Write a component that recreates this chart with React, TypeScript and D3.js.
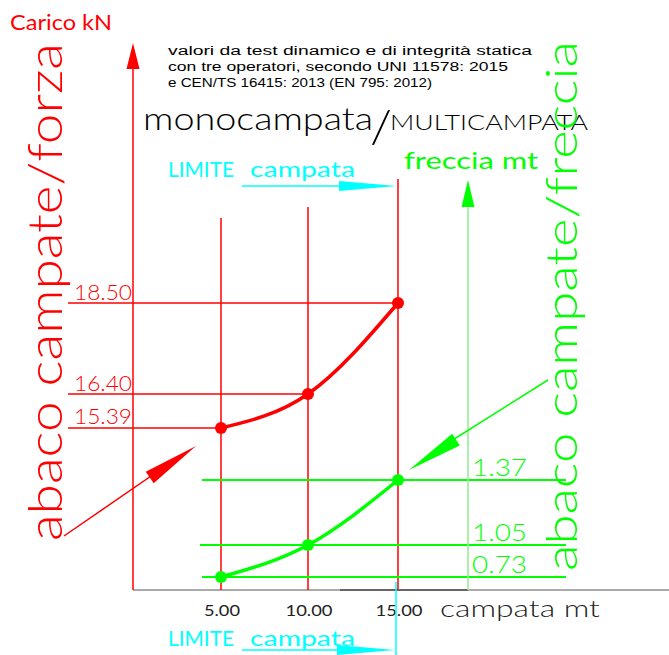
import React from "react";
import * as d3 from "d3";

const spans = [5, 10, 15];
const spanLabels = ["5.00", "10.00", "15.00"];
const loads = [15.39, 16.4, 18.5];
const loadLabels = ["15.39", "16.40", "18.50"];
const deflections = [0.73, 1.05, 1.37];
const deflLabels = ["0.73", "1.05", "1.37"];
const headerLines = [
  "valori da test dinamico e di  integrità statica",
  "con tre operatori, secondo UNI 11578: 2015",
  "e CEN/TS 16415: 2013 (EN 795: 2012)",
];

const RED = "#ff0000";
const GREEN = "#00ff00";
const CYAN = "#00ffff";
const FONT = "Lato, 'Open Sans', sans-serif";

function head(x1: number, y1: number, x2: number, y2: number, len: number, hw: number) {
  const dx = x2 - x1, dy = y2 - y1;
  const L = Math.hypot(dx, dy);
  const ux = dx / L, uy = dy / L;
  const bx = x2 - ux * len, by = y2 - uy * len;
  const px = -uy * hw, py = ux * hw;
  return `${x2},${y2} ${bx + px},${by + py} ${bx - px},${by - py}`;
}

export default function App() {
  const x = d3.scaleLinear().domain(spans).range([221, 308, 398]);
  const yLoad = d3.scaleLinear().domain(loads).range([428, 394, 303]);
  const yDefl = d3.scaleLinear().domain(deflections).range([577, 545, 480]);
  const axisX = 133;
  const baseY = 590;
  const greenAxisX = 468;
  const gridTop = [218, 207, 179];

  const line = d3.line<[number, number]>().curve(d3.curveMonotoneX);
  const redPts = spans.map((s, i) => [x(s), yLoad(loads[i])] as [number, number]);
  const greenPts = spans.map((s, i) => [x(s), yDefl(deflections[i])] as [number, number]);
  const xMax = x(spans[spans.length - 1]);

  const T = (props: any) => <text fontFamily={FONT} lengthAdjust="spacingAndGlyphs" {...props} />;

  return (
    <svg width={669} height={655} style={{ position: "absolute", left: 0, top: 0, background: "#fff" }}>
      {/* baseline */}
      <line x1={axisX} x2={669} y1={baseY} y2={baseY} stroke="#aaa" strokeWidth={2} />
      <line x1={340} x2={greenAxisX} y1={baseY} y2={baseY} stroke="#666" strokeWidth={2} />

      {/* red axis */}
      <line x1={axisX} x2={axisX} y1={60} y2={baseY} stroke={RED} strokeWidth={1.5} />
      <polygon points={head(axisX, 100, axisX, 43, 26, 6.5)} fill={RED} />
      <T x={10} y={30} fontSize={22} fill={RED} textLength={102}>Carico kN</T>

      {/* red vertical grid */}
      {spans.map((s, i) => (
        <line key={"v" + i} x1={x(s)} x2={x(s)} y1={gridTop[i]} y2={baseY} stroke={RED} strokeWidth={1.5} />
      ))}
      {/* red horizontal grid */}
      {loads.map((v, i) => (
        <line key={"h" + i} x1={68} x2={x(spans[i])} y1={yLoad(v)} y2={yLoad(v)} stroke={RED} strokeWidth={1.5} />
      ))}
      {loadLabels.map((t, i) => (
        <T key={"lt" + i} x={74} y={yLoad(loads[i]) - (i === 0 ? 4 : 3)} fontSize={21} fontWeight={300} fill={RED} textLength={58}>{t}</T>
      ))}

      {/* green grid */}
      {deflections.map((v, i) => (
        <line key={"g" + i} x1={i === 1 ? 200 : 202} x2={566} y1={yDefl(v)} y2={yDefl(v)} stroke={GREEN} strokeWidth={2} />
      ))}
      {deflLabels.map((t, i) => (
        <T key={"gt" + i} x={472} y={yDefl(deflections[i]) - 4} fontSize={23} fontWeight={300} fill={GREEN} textLength={55}>{t}</T>
      ))}

      {/* green axis */}
      <line x1={greenAxisX} x2={greenAxisX} y1={200} y2={baseY} stroke="#90ee90" strokeWidth={1.5} />
      <polygon points={head(greenAxisX, 240, greenAxisX, 180, 27, 6.5)} fill={GREEN} />
      <T x={404} y={169} fontSize={24} fill={GREEN} textLength={134}>freccia mt</T>

      {/* curves */}
      <path d={line(redPts) || ""} fill="none" stroke={RED} strokeWidth={3.5} />
      {redPts.map((p, i) => (
        <circle key={"rc" + i} cx={p[0]} cy={p[1]} r={6} fill={RED} />
      ))}
      <path d={line(greenPts) || ""} fill="none" stroke={GREEN} strokeWidth={3.5} />
      {greenPts.map((p, i) => (
        <circle key={"gc" + i} cx={p[0]} cy={p[1]} r={6} fill={GREEN} />
      ))}

      {/* pointer arrows */}
      <line x1={64} y1={536} x2={170} y2={463} stroke={RED} strokeWidth={1.5} />
      <polygon points={head(64, 536, 196, 446, 56, 7)} fill={RED} />
      <line x1={548} y1={380} x2={440} y2={448} stroke={GREEN} strokeWidth={1.5} />
      <polygon points={head(548, 380, 409, 470, 56, 7)} fill={GREEN} />

      {/* x labels */}
      {spanLabels.map((t, i) => (
        <T key={"xl" + i} x={x(spans[i]) + 1} y={616} textAnchor="middle" fontSize={16} fill="#222" textLength={i === 0 ? 36 : 47}>{t}</T>
      ))}
      <T x={440} y={617} fontSize={23} fontWeight={300} fill="#222" textLength={160}>campata mt</T>

      {/* LIMITE campata top */}
      <T x={168} y={177} fontSize={21} fill={CYAN} textLength={66}>LIMITE</T>
      <T x={250} y={177} fontSize={22} fill={CYAN} textLength={105}>campata</T>
      <line x1={242} x2={345} y1={186} y2={186} stroke={CYAN} strokeWidth={1.5} />
      <polygon points={head(242, 186, xMax - 1, 186, 58, 5)} fill={CYAN} />

      {/* LIMITE campata bottom */}
      <line x1={xMax - 2} x2={xMax - 2} y1={582} y2={655} stroke={CYAN} strokeWidth={1.5} />
      <T x={168} y={646} fontSize={21} fill={CYAN} textLength={66}>LIMITE</T>
      <T x={250} y={646} fontSize={22} fill={CYAN} textLength={105}>campata</T>
      <line x1={242} x2={345} y1={650} y2={650} stroke={CYAN} strokeWidth={1.5} />
      <polygon points={head(242, 650, xMax - 3, 650, 58, 5)} fill={CYAN} />

      {/* header */}
      {headerLines.map((t, i) => (
        <text key={"hd" + i} x={168} y={55 + i * 16} fontFamily="'Liberation Sans', sans-serif" fontSize={12} fill="#000" textLength={[364, 340, 264][i]} lengthAdjust="spacingAndGlyphs">{t}</text>
      ))}
      <T x={143} y={130} fontWeight={300} fontSize={32} fill="#000" textLength={230}>monocampata</T>
      <T x={370} y={143} fontWeight={300} fontSize={46} fill="#000" textLength={22}>/</T>
      <T x={390} y={130} fontWeight={300} fontSize={22} fill="#000" textLength={198}>MULTICAMPATA</T>

      {/* rotated titles */}
      <T transform="translate(62,541) rotate(-90)" fontWeight={300} fontSize={48} fill={RED} textLength={498}>abaco campate/forza</T>
      <T transform="translate(577,571) rotate(-90)" fontWeight={300} fontSize={44} fill={GREEN} textLength={530}>abaco campate/freccia</T>
    </svg>
  );
}
